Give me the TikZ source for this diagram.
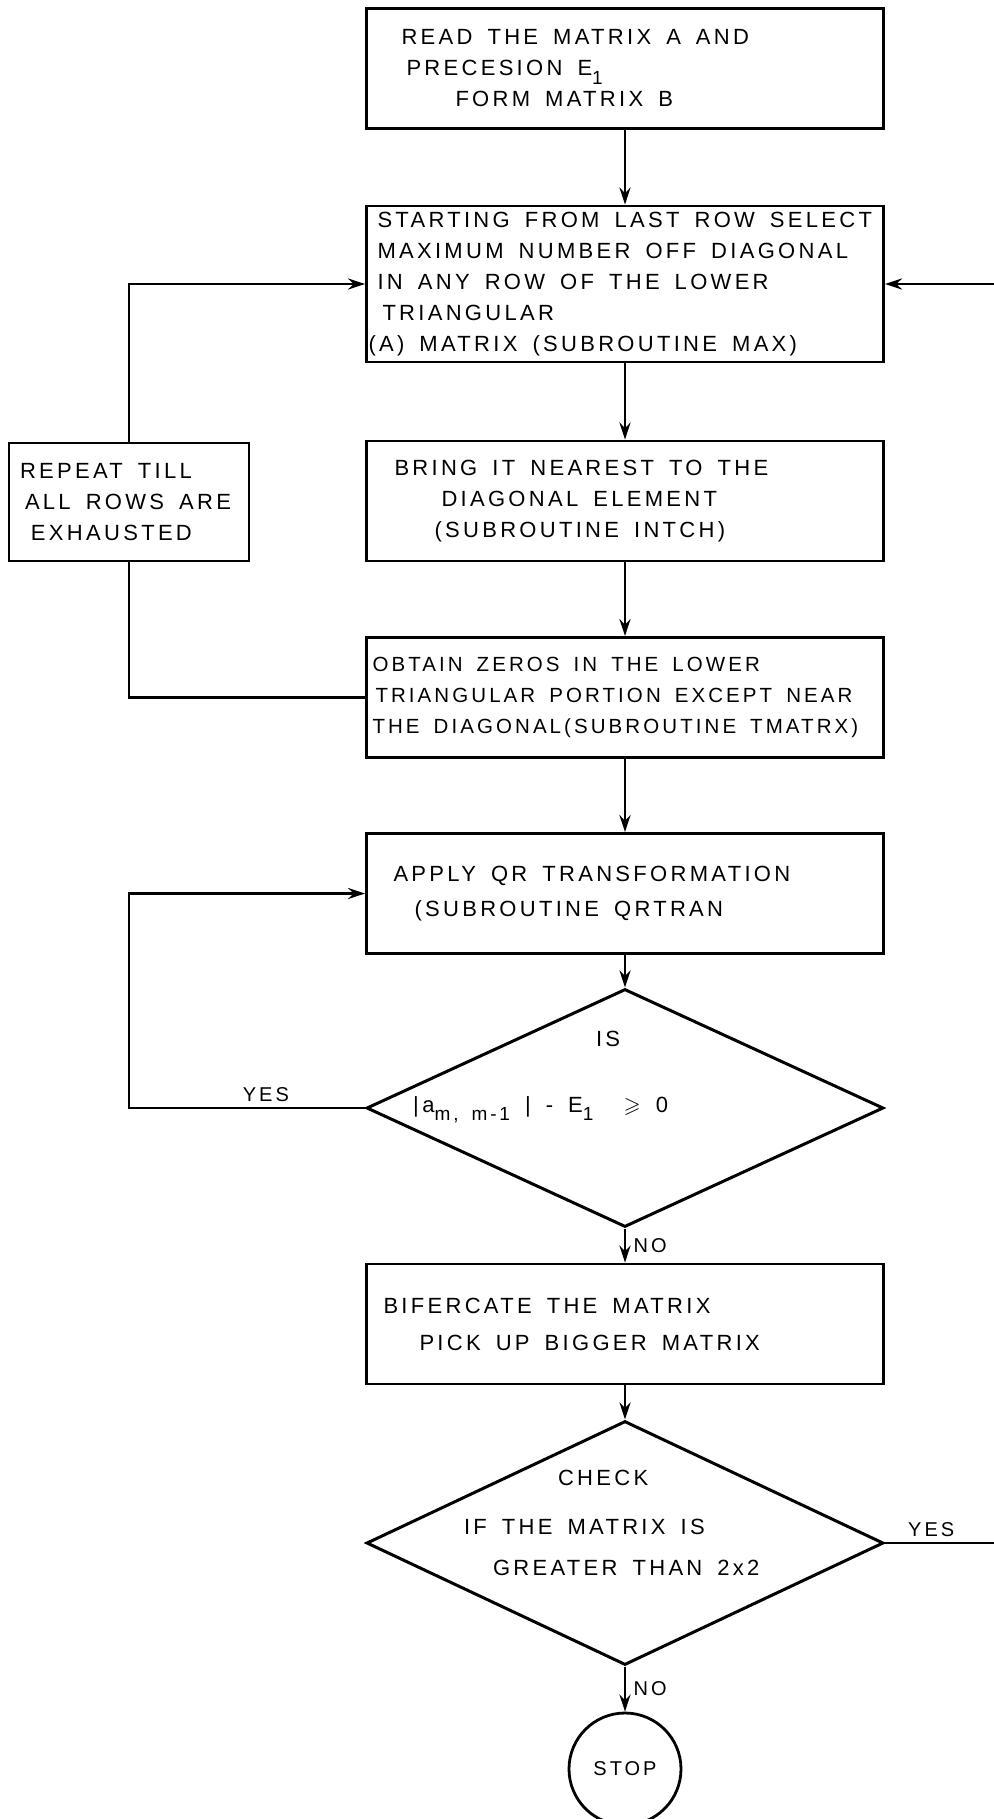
\documentclass[tikz,border=0pt]{standalone}
\usepackage{amssymb}
\usepackage{fontspec}
\newfontfamily\lett{Liberation Sans}[LetterSpace=15,WordSpace=1.6]
\usetikzlibrary{shapes.geometric,arrows.meta,positioning,calc}

\newlength{\linew}
\newcommand{\tline}[2][0]{\makebox[\linew][l]{\hspace*{#1pt}#2}}
\newcommand{\lowr}[1]{\raisebox{-0.4em}{\fontsize{19}{19}\selectfont #1}}

\begin{document}
\begin{tikzpicture}[
    x=1pt, y=-1pt,
    txt/.style={font=\lett\fontsize{22}{31}\selectfont\setlength{\linew}{505pt}},
    box/.style={draw, txt, line width=2.8pt, minimum width=517pt, minimum height=120pt, inner sep=0pt, align=left},
    decision/.style={diamond, draw, line width=3pt, minimum width=517pt, minimum height=240pt, inner sep=0pt},
    dtext/.style={txt, align=left, inner sep=0pt},
    conn/.style={draw, line width=2.8pt},
    flow/.style={draw, line width=2.8pt, -{Stealth[length=17pt,width=11pt]}},
    lbl/.style={font=\lett\fontsize{20}{20}\selectfont}
]
\useasboundingbox (0,0) rectangle (993,1819);

% Main column
\node[box] (read) at (625,68.5) {\tline[29]{READ THE MATRIX A AND}\\
    \tline[34]{PRECESION E\lowr{1}}\\
    \tline[83]{FORM MATRIX B}};
\node[box, minimum height=156pt] (start) at (625,284) {\tline[5]{STARTING FROM LAST ROW SELECT}\\
    \tline[5]{MAXIMUM NUMBER OFF DIAGONAL}\\
    \tline[5]{IN ANY ROW OF THE LOWER}\\
    \tline[10]{TRIANGULAR}\\
    \tline[-4]{(A) MATRIX (SUBROUTINE MAX)}};
\node[box] (bring) at (625,501) {\tline[22]{BRING IT NEAREST TO THE}\\
    \tline[69]{DIAGONAL ELEMENT}\\
    \tline[62]{(SUBROUTINE INTCH)}};
\node[box, font=\lett\fontsize{20.5}{31}\selectfont\setlength{\linew}{505pt}] (zeros) at (625,697.5)
    {\tline[0]{OBTAIN ZEROS IN THE LOWER}\\
    \tline[3]{TRIANGULAR PORTION EXCEPT NEAR}\\
    \tline[0]{THE DIAGONAL(SUBROUTINE TMATRX)}};
\node[box] (qr) at (625,893.5) {\tline[21]{APPLY QR TRANSFORMATION}\\[4pt]
    \tline[42]{(SUBROUTINE QRTRAN}};
\node[decision, minimum height=238pt] (test) at (625,1108) {};
\node[dtext, yshift=31pt, execute at begin node=\setlength{\linew}{430pt}] (testtxt) at (test)
    {\tline[186]{IS}\\[35pt]
     \tline[3]{|\,a\lowr{m, m-1} | - E\lowr{1} \ $\geqslant$ 0}};
\node[box] (bif) at (625,1324) {\tline[11]{BIFERCATE THE MATRIX}\\[6pt]
    \tline[47]{PICK UP BIGGER MATRIX}};
\node[decision, minimum height=244pt] (check) at (625,1543) {};
\node[dtext, yshift=20pt, execute at begin node=\setlength{\linew}{400pt}] (checktxt) at (check)
    {\tline[133]{CHECK}\\[18pt]
     \tline[39]{IF THE MATRIX IS}\\[10pt]
     \tline[68]{GREATER THAN 2x2}};
\node[circle, draw, line width=2.8pt, minimum size=112pt, inner sep=0pt, lbl] (stop) at (625,1769) {STOP};

% Side box
\node[box, minimum width=240pt, minimum height=118pt, execute at begin node=\setlength{\linew}{230pt}] (repeat) at (129,502)
    {\tline[6]{REPEAT TILL}\\
     \tline[11]{ALL ROWS ARE}\\
     \tline[17]{EXHAUSTED}};

% Flow
\path[flow] (read) -- (start);
\path[flow] (start) -- (bring);
\path[flow] (bring) -- (zeros);
\path[flow] (zeros) -- (qr);
\path[flow] (qr) -- (test);
\path[flow] (test) -- node[lbl, right=4pt] {NO} (bif);
\path[flow] (bif) -- (check);
\path[flow] (check) -- node[lbl, right=4pt] {NO} (stop);

% Loops
\path[conn] (zeros.west) -| (repeat.south);
\path[flow] (repeat.north) |- (start.west);
\path[flow] (test.west) -- node[lbl, above=2pt, pos=0.42] {YES} (test.west -| repeat.south) |- (qr.west);
\coordinate (rim) at (995,0);
\path[flow] (check.east) -- node[lbl, above=2pt, pos=0.42] {YES} (check.east -| rim) -- (start.east -| rim) -- (start.east);

\end{tikzpicture}
\end{document}
